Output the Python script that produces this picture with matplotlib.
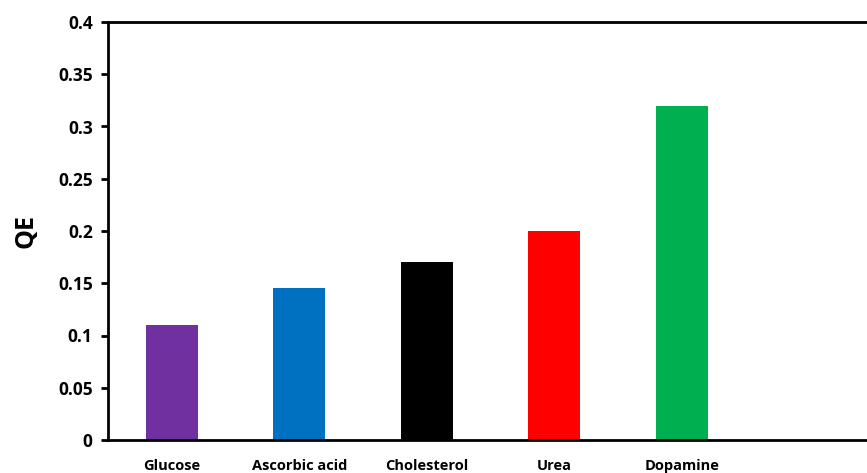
import matplotlib as mpl
import matplotlib.pyplot as plt
import numpy as np

mpl.rcParams["font.family"] = ["Open Sans", "DejaVu Sans"]

categories = ["Glucose", "Ascorbic acid", "Cholesterol", "Urea", "Dopamine"]
qe = [0.11, 0.145, 0.17, 0.20, 0.32]
colors = ["#7030A0", "#0070C0", "#000000", "#FF0000", "#00B050"]
yticks = [0, 0.05, 0.1, 0.15, 0.2, 0.25, 0.3, 0.35, 0.4]
ytick_labels = ["0", "0.05", "0.1", "0.15", "0.2", "0.25", "0.3", "0.35", "0.4"]

fig = plt.figure(figsize=(8.67, 4.73), dpi=100)
ax = fig.add_axes([108 / 867, 33 / 473, 765 / 867, 418 / 473])

x = np.arange(len(categories))
ax.bar(x, qe, width=0.41, color=colors)

ax.set_xlim(-0.5, 5.5)
ax.set_ylim(0, 0.4)
ax.set_yticks(yticks)
ax.set_yticklabels(ytick_labels, fontsize=12.5, fontweight="bold")
ax.set_xticks(x)
ax.set_xticklabels(categories, fontsize=10.5, fontweight="bold")
ax.tick_params(axis="x", length=0, pad=14)
ax.tick_params(axis="y", length=5, width=2, pad=6)
ax.set_ylabel("QE", fontsize=18, fontweight="bold", labelpad=14)

for s in ax.spines.values():
    s.set_linewidth(2)

fig.savefig("out.png", dpi=100, facecolor="w")
